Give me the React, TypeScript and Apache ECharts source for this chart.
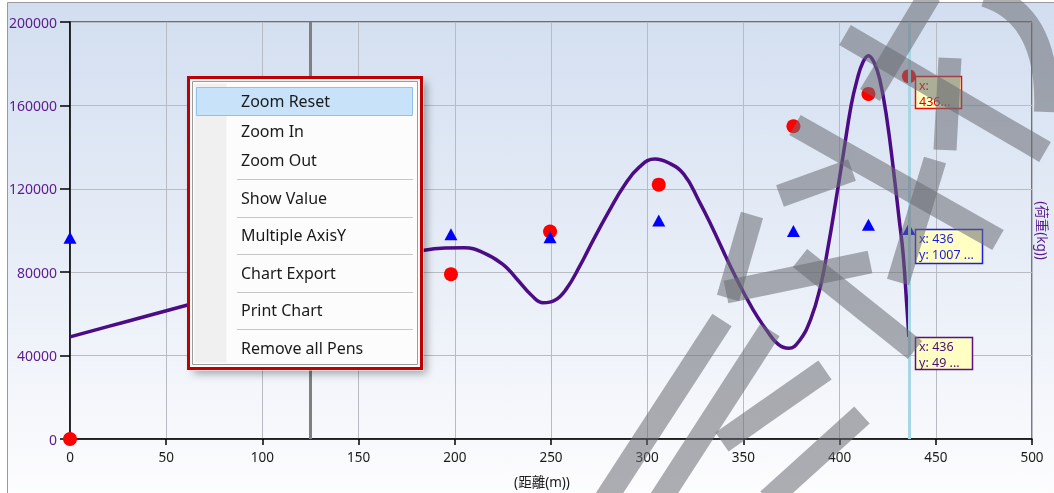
import React, { useEffect, useRef } from 'react';
import * as echarts from 'echarts';

// ---- data ----
const pointDistances = [0, 198, 249.5, 306, 376, 415, 436];
const redValues = [0, 79000, 99500, 122000, 150000, 165500, 174000];
const blueValues = [96500, 98200, 96800, 104800, 99800, 102800, 100700];

const curveDistances = [
  0, 20, 40, 64, 100, 140, 180, 195, 205, 215, 225, 232, 240, 246, 252, 258, 265, 272, 280, 288,
  296, 304, 311, 319, 327, 333, 345, 355, 362, 368, 373.5, 379, 385, 390, 394, 398, 402, 406,
  409, 412, 415, 418, 421, 424.5, 428, 431, 433, 435, 436,
];
const curveValues = [
  49000, 54000, 59000, 65000, 73800, 82300, 89800, 91600, 91700, 89300, 83800, 77000, 68800,
  65300, 66500, 72000, 83000, 95500, 109000, 121500, 130500, 134300, 132500, 127000, 114000,
  103000, 79500, 62000, 52300, 45500, 43500, 47000, 57500, 73000, 92000, 114000, 137000, 160000,
  172000, 180500, 183800, 180500, 172000, 154000, 129000, 105000, 89000, 63000, 49000,
];

const xTickValues = [0, 50, 100, 150, 200, 250, 300, 350, 400, 450, 500];
const yTickValues = [0, 40000, 80000, 120000, 160000, 200000];
const cursorDistance = 125;
const selectedDistance = 436;

const xAxisTitle = '(距離(m))';
const yAxisTitle = '(荷重(kg))';
const menuGroups = [
  ['Zoom Reset', 'Zoom In', 'Zoom Out'],
  ['Show Value'],
  ['Multiple AxisY'],
  ['Chart Export'],
  ['Print Chart'],
  ['Remove all Pens'],
];

// decorative watermark geometry (pixels)
const WATERMARK_STROKES = [
  [930, -5, 870, 95],
  [845, 35, 1045, 152],
  [950, 58, 945, 150],
  [795, 125, 998, 240],
  [935, 160, 898, 282],
  [780, 196, 852, 170],
  [752, 215, 728, 298],
  [726, 292, 870, 262],
  [800, 258, 915, 350],
  [722, 320, 605, 500],
  [770, 330, 660, 500],
  [825, 370, 722, 442],
  [862, 415, 768, 500],
];

const FONT = "'Noto Sans', 'Noto Sans CJK TC', sans-serif";

export default function App() {
  const ref = useRef<HTMLDivElement>(null);

  useEffect(() => {
    const el = ref.current!;
    const chart = echarts.init(el, null, { renderer: 'svg' });

    const step = xTickValues[1] - xTickValues[0];
    const yStep = yTickValues[1] - yTickValues[0];

    chart.setOption({
      animation: false,
      grid: {
        left: 70, right: 22, top: 22, bottom: 54,
        show: true, borderColor: '#000', borderWidth: 1, backgroundColor: 'transparent',
      },
      xAxis: {
        type: 'value',
        min: xTickValues[0],
        max: xTickValues[xTickValues.length - 1],
        interval: step,
        axisLine: { show: true, onZero: false, lineStyle: { color: '#000', width: 1.5 } },
        axisTick: { show: true, length: 6, lineStyle: { color: '#000', width: 1.5 } },
        axisLabel: { color: '#1a1a1a', fontSize: 13.5, margin: 11, fontFamily: FONT },
        splitLine: { show: true, lineStyle: { color: '#b8bbc1', width: 1 } },
      },
      yAxis: {
        type: 'value',
        min: yTickValues[0],
        max: yTickValues[yTickValues.length - 1],
        interval: yStep,
        axisLine: { show: true, onZero: false, lineStyle: { color: '#000', width: 1.5 } },
        axisTick: { show: true, length: 10, lineStyle: { color: '#000', width: 1.5 } },
        axisLabel: { color: '#5b1a91', fontSize: 14, margin: 13, fontFamily: FONT, formatter: (v: number) => String(v) },
        splitLine: { show: true, lineStyle: { color: '#b8bbc1', width: 1 } },
      },
      series: [
        {
          type: 'line',
          data: curveDistances.map((d, i) => [d, curveValues[i]]),
          smooth: 0.45,
          showSymbol: false,
          lineStyle: { color: '#4b0c86', width: 3.5 },
          z: 3,
          markLine: {
            silent: true,
            symbol: 'none',
            label: { show: false },
            data: [
              { xAxis: cursorDistance, lineStyle: { color: '#808080', width: 3, type: 'solid' } },
              { xAxis: selectedDistance, lineStyle: { color: '#a8d6e4', width: 3, type: 'solid' } },
            ],
          },
        },
        {
          type: 'scatter',
          data: pointDistances.map((d, i) => [d, redValues[i]]),
          symbol: 'circle',
          symbolSize: 14,
          itemStyle: { color: '#ff0000', opacity: 1 },
          z: 4,
        },
        {
          type: 'scatter',
          data: pointDistances.map((d, i) => [d, blueValues[i]]),
          symbol: 'triangle',
          symbolSize: [13, 12],
          itemStyle: { color: '#0000ff', opacity: 1 },
          z: 4,
        },
      ],
    });

    const toPx = (x: number, y: number) => chart.convertToPixel({ gridIndex: 0 }, [x, y]) as number[];
    const gridLeft = toPx(xTickValues[0], 0)[0];
    const gridRight = toPx(xTickValues[xTickValues.length - 1], 0)[0];
    const gridBottom = toPx(0, yTickValues[0])[1];
    const gridTop = toPx(0, yTickValues[yTickValues.length - 1])[1];

    const last = pointDistances.length - 1;
    const selLineVal = curveValues[curveValues.length - 1];
    const redPx = toPx(selectedDistance, redValues[last]);
    const bluePx = toPx(selectedDistance, blueValues[last]);
    const purplePx = toPx(selectedDistance, selLineVal);

    const valueBox = (px: number[], w: number, h: number, lines: string[], border: string, color: string) => ({
      type: 'group',
      z: 20,
      children: [
        {
          type: 'rect',
          shape: { x: Math.round(px[0]) + 6.5, y: Math.round(px[1]) + 0.5, width: w, height: h },
          style: { fill: '#ffffc4', stroke: border, lineWidth: 1.5 },
          z: 20,
        },
        ...lines.map((line, i) => ({
          type: 'text',
          x: Math.round(px[0]) + 10,
          y: Math.round(px[1]) + 9 + i * 16,
          style: { text: line, fill: color, font: `12.5px ${FONT}`, verticalAlign: 'middle' },
          z: 21,
        })),
      ],
    });

    const wmColor = 'rgba(105,108,114,0.55)';
    const watermark: any[] = WATERMARK_STROKES.map((s) => ({
      type: 'line',
      shape: { x1: s[0], y1: s[1], x2: s[2], y2: s[3] },
      style: { stroke: wmColor, lineWidth: 23 },
      z: 60,
      silent: true,
    }));
    watermark.push({
      type: 'bezierCurve',
      shape: { x1: 985, y1: -5, cpx1: 1050, cpy1: 15, x2: 1046, y2: 112 },
      style: { stroke: wmColor, lineWidth: 24, fill: 'none' },
      z: 60,
      silent: true,
    });

    // context menu
    const menu: any[] = [];
    const mx = 188.5, my = 77.5, mw = 233, mh = 291;
    menu.push({
      type: 'rect', shape: { x: mx + 2, y: my + 2, width: mw, height: mh },
      style: { fill: '#e8e8e8', shadowBlur: 8, shadowColor: 'rgba(0,0,0,0.35)', shadowOffsetX: 3, shadowOffsetY: 3 }, z: 80,
    });
    menu.push({ type: 'rect', shape: { x: mx, y: my, width: mw, height: mh }, style: { fill: '#fbfbfb', stroke: '#c00000', lineWidth: 3 }, z: 81 });
    menu.push({ type: 'rect', shape: { x: mx + 4, y: my + 4, width: mw - 8, height: mh - 8 }, style: { fill: '#fcfcfc', stroke: '#9c9c9c', lineWidth: 1 }, z: 82 });
    menu.push({ type: 'rect', shape: { x: mx + 6, y: my + 6, width: 32, height: mh - 12 }, style: { fill: '#f0f0f0' }, z: 83 });
    let y = 101;
    let first = true;
    menuGroups.forEach((group, gi) => {
      group.forEach((item, ii) => {
        if (!(gi === 0 && ii === 0)) y += ii === 0 ? 18.2 : 29.5;
        if (first) {
          menu.push({ type: 'rect', shape: { x: 196.5, y: y - 13.5, width: 216, height: 28 }, style: { fill: '#c8e2f9', stroke: '#90c0ec', lineWidth: 1 }, z: 84 });
          first = false;
        }
        menu.push({
          type: 'text', x: 241, y, style: { text: item, fill: '#1a1a1a', font: `16px ${FONT}`, verticalAlign: 'middle' }, z: 86,
        });
      });
      if (gi < menuGroups.length - 1) {
        y += 19.3;
        menu.push({ type: 'line', shape: { x1: 237, y1: Math.round(y) + 0.5, x2: 413, y2: Math.round(y) + 0.5 }, style: { stroke: '#c6c6c6', lineWidth: 1 }, z: 85 });
      }
    });

    chart.setOption({
      graphic: [
        {
          type: 'rect',
          shape: { x: 7.5, y: 2.5, width: 1060, height: 500 },
          style: {
            fill: new echarts.graphic.LinearGradient(0, 0, 0, 1, [
              { offset: 0, color: '#d2def0' },
              { offset: 0.5, color: '#e7edf7' },
              { offset: 1, color: '#fdfdfe' },
            ]),
            stroke: '#9a9a9a',
            lineWidth: 1,
          },
          z: -100,
          silent: true,
        },
        {
          type: 'text',
          x: (gridLeft + gridRight) / 2 - 9,
          y: gridBottom + 43,
          style: { text: xAxisTitle, fill: '#1a1a1a', font: `13.5px ${FONT}`, align: 'center', verticalAlign: 'middle' },
          z: 10,
        },
        {
          type: 'text',
          x: gridRight + 10,
          y: (gridTop + gridBottom) / 2,
          rotation: -Math.PI / 2,
          style: { text: yAxisTitle, fill: '#5b1a91', font: `13.5px ${FONT}`, align: 'center', verticalAlign: 'middle' },
          z: 10,
        },
        valueBox(redPx, 46, 32, ['x:', `${selectedDistance}...`], '#e01010', '#e00000'),
        valueBox(bluePx, 67, 34, [`x: ${selectedDistance}`, `y: ${String(blueValues[last]).slice(0, 4)} ...`], '#1c1cf0', '#1c1ce0'),
        valueBox(purplePx, 57, 32, [`x: ${selectedDistance}`, `y: ${String(selLineVal).slice(0, 2)} ...`], '#5b0f8f', '#4b0a78'),
        ...watermark,
        ...menu,
      ],
    });

    return () => chart.dispose();
  }, []);

  return <div ref={ref} style={{ position: 'fixed', left: 0, top: 0, width: 1054, height: 493 }} />;
}
